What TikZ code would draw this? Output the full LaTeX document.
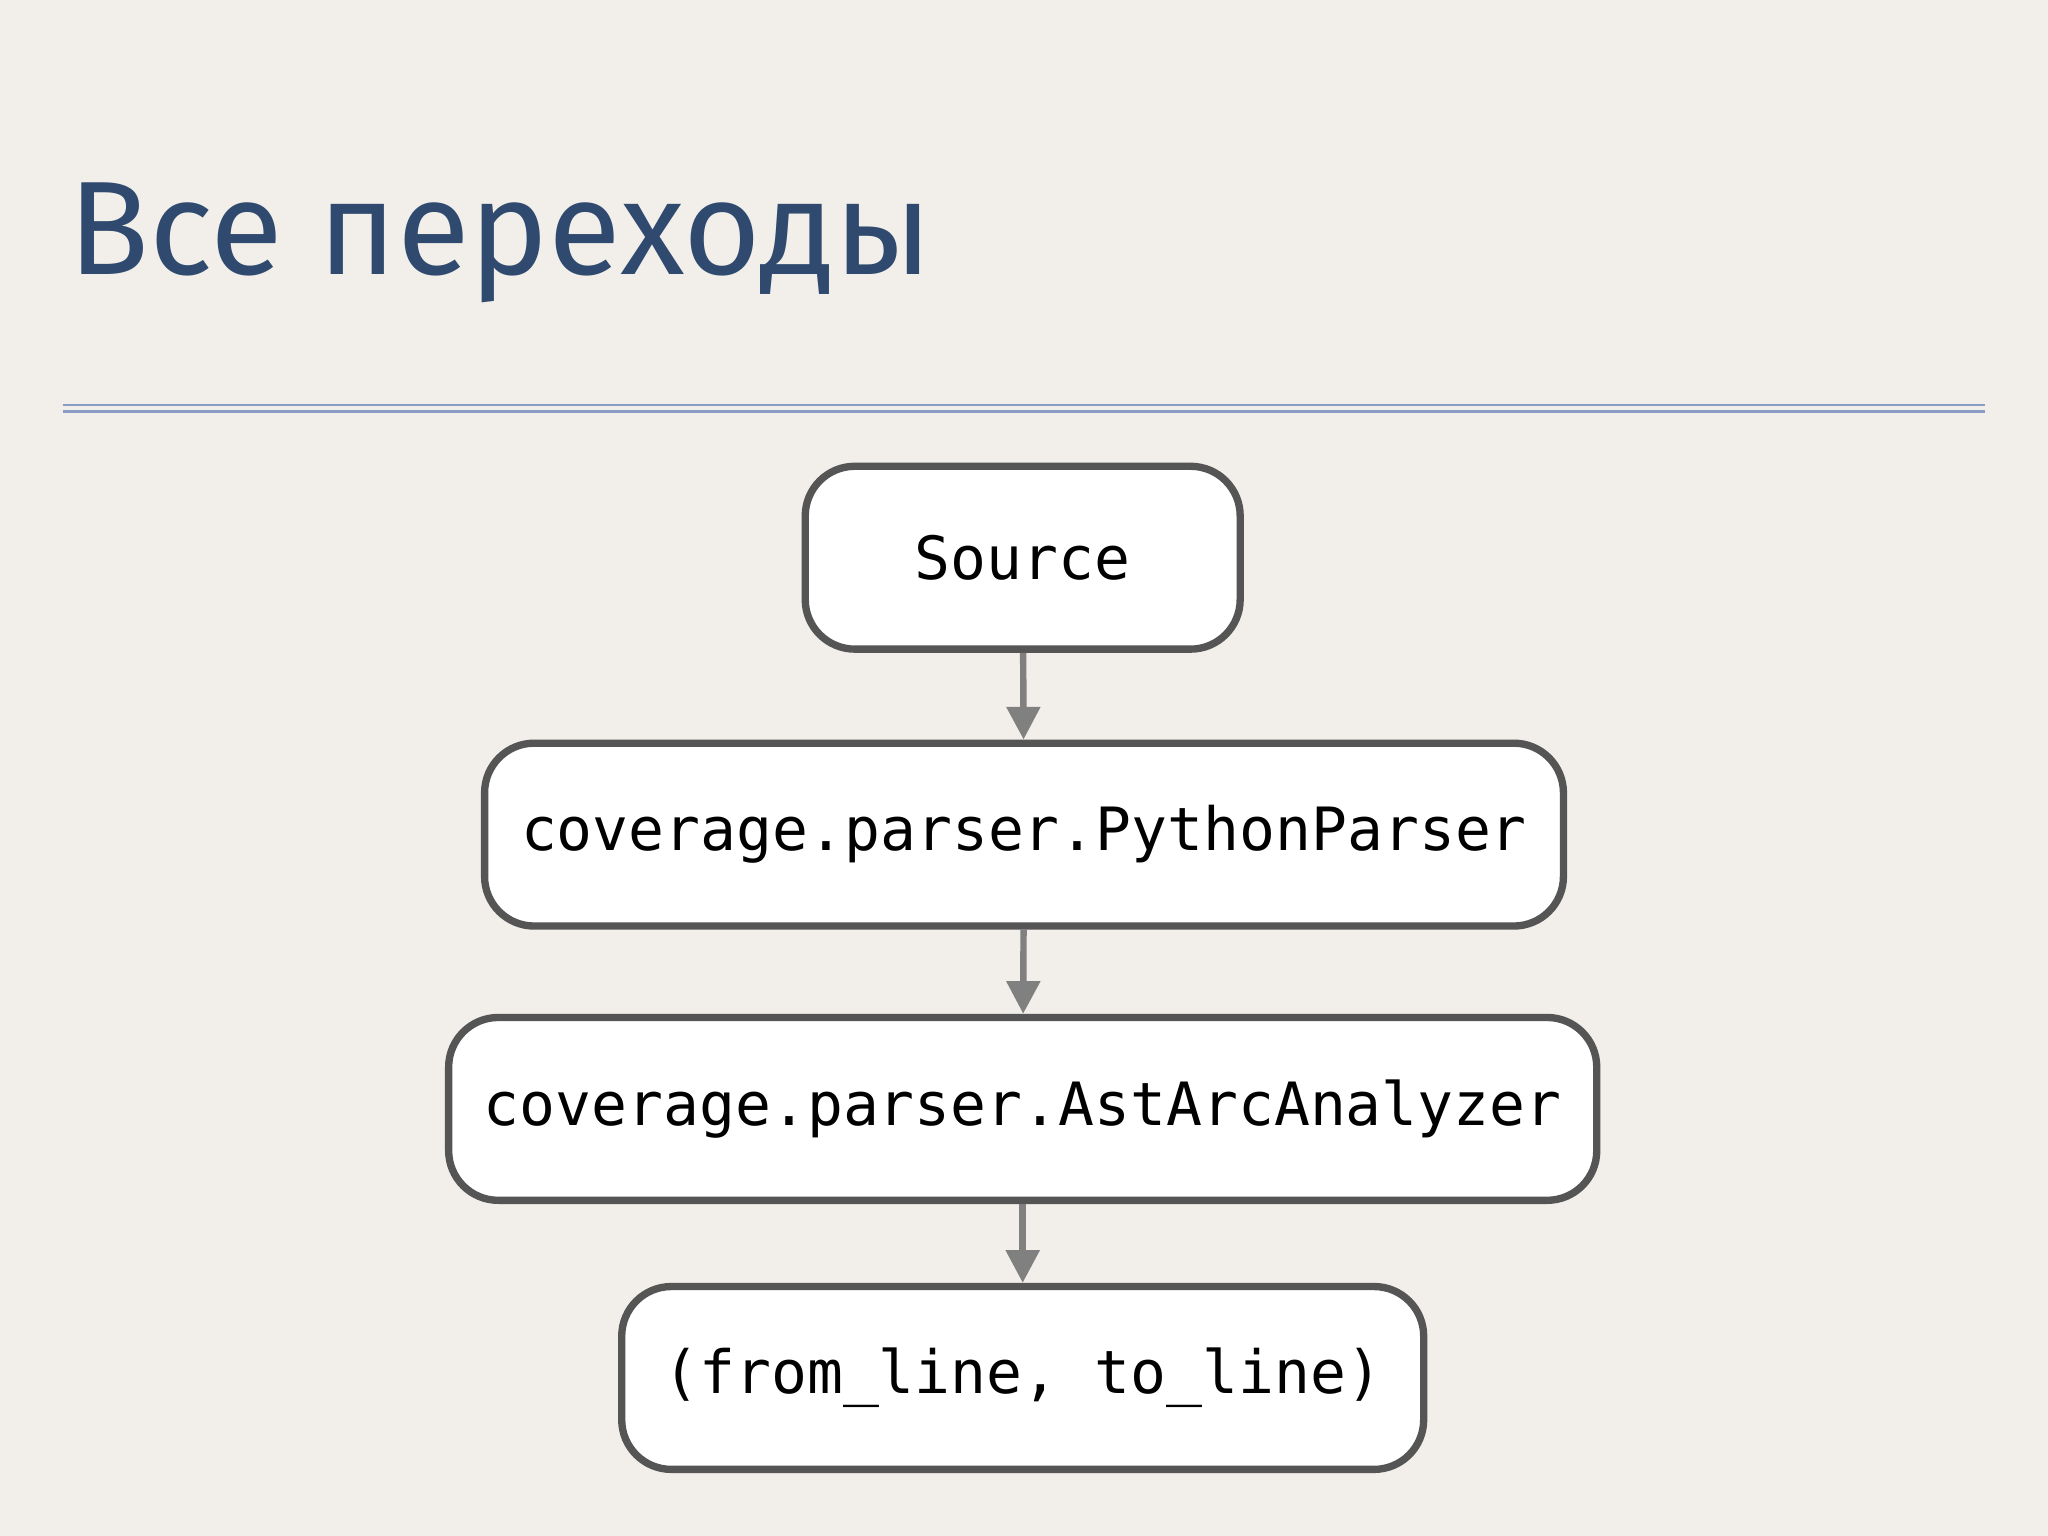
\documentclass[tikz,border=0pt]{standalone}
\usepackage{fontspec}
\setmainfont{Fira Sans}
\setmonofont{DejaVu Sans Mono}
\usepackage{tikz}
\usetikzlibrary{arrows.meta,positioning}
\definecolor{paper}{HTML}{F2EFEA}
\definecolor{titleblue}{HTML}{2F4A6E}
\definecolor{rulecol}{HTML}{8A9CC4}
\definecolor{edgegray}{HTML}{555555}
\tikzset{
  block/.style={rectangle, draw=edgegray, line width=1.6pt, fill=white,
    rounded corners=0.38cm, minimum height=1.4cm, font=\ttfamily\fontsize{13}{15}\selectfont},
  line/.style={draw=gray, line width=1.4pt, -{Triangle[length=0.25cm,width=0.25cm]}}
}
\begin{document}
\begin{tikzpicture}[x=1cm,y=-1cm]
  \fill[paper] (0,0) rectangle (15.68,11.76);
  \useasboundingbox (0,0) rectangle (15.68,11.76);
  % Title and rule
  \node[anchor=base west, text=titleblue, font=\fontsize{29}{32}\selectfont, inner sep=0pt] (title) at (0.52,2.1) {Все переходы};
  \draw[rulecol, line width=0.6pt] (0.48,3.10) -- (15.2,3.10);
  \draw[rulecol, line width=0.6pt] (0.48,3.15) -- (15.2,3.15);
  % Place nodes
  \node[block, minimum width=3.33cm] (source) at (7.83,4.27) {Source};
  \node[block, minimum width=8.26cm] (pyparser) at (7.84,6.39) {coverage.parser.PythonParser};
  \node[block, minimum width=8.79cm] (analyzer) at (7.83,8.49) {coverage.parser.AstArcAnalyzer};
  \node[block, minimum width=6.14cm] (arcs) at (7.83,10.55) {(from\_line, to\_line)};
  % Draw edges
  \path[line] (source) -- (pyparser);
  \path[line] (pyparser) -- (analyzer);
  \path[line] (analyzer) -- (arcs);
\end{tikzpicture}
\end{document}
